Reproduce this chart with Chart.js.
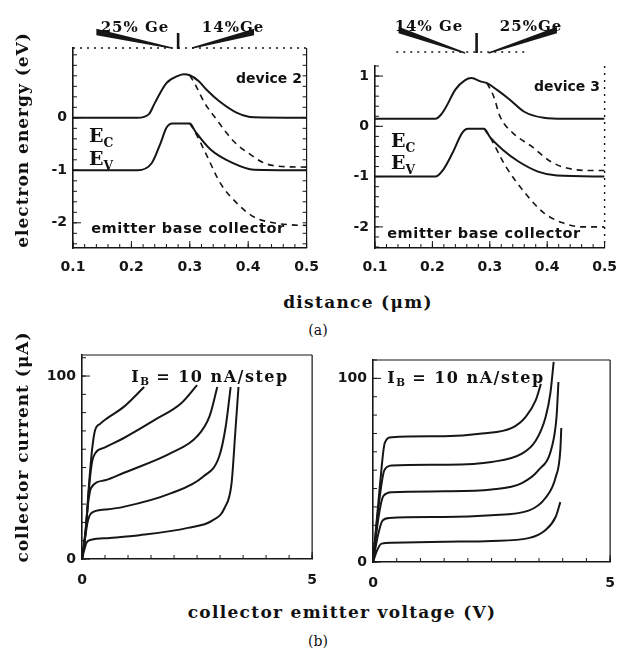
<!DOCTYPE html>
<html lang="en">
<head>
<meta charset="UTF-8">
<title>SiGe HBT band diagrams and output curves</title>
<script src="https://cdn.jsdelivr.net/npm/chart.js"></script>
<style>
  body { margin: 0; background: #fff; }
  .page { position: relative; width: 628px; height: 649px; overflow: hidden; color: #111; font-family: "DejaVu Serif", serif; }
  canvas { position: absolute; }
  .t { position: absolute; white-space: nowrap; transform: translate(-50%, -50%); font-weight: bold; }
  .l { position: absolute; white-space: nowrap; transform: translateY(-50%); font-weight: bold; }
  .sans { font-family: "DejaVu Sans", sans-serif; }
  .rot { transform: translate(-50%, -50%) rotate(-90deg); }
  .title { font-size: 17px; letter-spacing: 1.3px; }
  sub { font-size: 65%; vertical-align: -0.35em; letter-spacing: 0; }
</style>
</head>
<body>
<div class="page">
  <canvas id="dev2" width="300" height="285" style="left:30px;top:0"></canvas>
  <canvas id="dev3" width="293" height="285" style="left:335px;top:0"></canvas>
  <canvas id="iv2" width="290" height="255" style="left:40px;top:340px"></canvas>
  <canvas id="iv3" width="298" height="255" style="left:330px;top:340px"></canvas>

  <div class="t" style="left:135px;top:27px;font-size:15px;letter-spacing:1px">25% Ge</div>
  <div class="t" style="left:233px;top:27px;font-size:15px;letter-spacing:1px">14%Ge</div>
  <div class="t" style="left:429px;top:26px;font-size:15px;letter-spacing:1px">14% Ge</div>
  <div class="t" style="left:531px;top:26px;font-size:15px;letter-spacing:1px">25%Ge</div>

  <div class="t sans" style="left:269px;top:78px;font-size:14px">device 2</div>
  <div class="t sans" style="left:567px;top:86px;font-size:14px">device 3</div>

  <div class="l" style="left:89px;top:137px;font-size:19px">E<sub>C</sub></div>
  <div class="l" style="left:89px;top:160px;font-size:19px">E<sub>V</sub></div>
  <div class="l" style="left:391px;top:142px;font-size:19px">E<sub>C</sub></div>
  <div class="l" style="left:391px;top:164px;font-size:19px">E<sub>V</sub></div>

  <div class="t sans" style="left:188px;top:228px;font-size:14.5px;letter-spacing:0.6px">emitter base collector</div>
  <div class="t sans" style="left:484px;top:233px;font-size:14.5px;letter-spacing:0.6px">emitter base collector</div>

  <div class="t rot title" style="left:22px;top:140px;letter-spacing:1px">electron energy (eV)</div>
  <div class="t title" style="left:358px;top:302px">distance (μm)</div>
  <div class="t" style="left:318px;top:330px;font-size:14px;font-weight:normal">(a)</div>

  <div class="t" style="left:210px;top:377px;font-size:16px;letter-spacing:1.5px">I<sub>B</sub> = 10 nA/step</div>
  <div class="t" style="left:466px;top:378px;font-size:16px;letter-spacing:1.5px">I<sub>B</sub> = 10 nA/step</div>

  <div class="t rot title" style="left:22px;top:447px;letter-spacing:1px">collector current (μA)</div>
  <div class="t title" style="left:342px;top:612px">collector emitter voltage (V)</div>
  <div class="t" style="left:318px;top:641px;font-size:14px;font-weight:normal">(b)</div>
</div>

<script>
// ---- band diagrams (a) ----
const distTicks = [0.1, 0.2, 0.3, 0.4, 0.5];
const energyTicks2 = [-2, -1, 0];
const energyTicks3 = [-2, -1, 0, 1];

// device 2
const dist2Ec = [0.10, 0.21, 0.23, 0.24, 0.26, 0.28, 0.29, 0.30, 0.315, 0.33, 0.35, 0.38, 0.41, 0.50];
const ecDev2 = [0.0, 0.0, 0.07, 0.28, 0.66, 0.80, 0.83, 0.81, 0.70, 0.52, 0.32, 0.10, 0.01, 0.0];
const dist2EcDash = [0.30, 0.31, 0.325, 0.345, 0.363, 0.38, 0.40, 0.427, 0.45, 0.50];
const ecDev2Dash = [0.81, 0.62, 0.29, -0.02, -0.29, -0.50, -0.67, -0.86, -0.92, -0.94];
const dist2Ev = [0.10, 0.21, 0.235, 0.25, 0.26, 0.27, 0.30, 0.31, 0.336, 0.373, 0.41, 0.50];
const evDev2 = [-1.0, -1.0, -0.86, -0.48, -0.19, -0.11, -0.11, -0.27, -0.61, -0.86, -0.99, -1.0];
const dist2EvDash = [0.30, 0.31, 0.33, 0.352, 0.38, 0.41, 0.443, 0.475, 0.50];
const evDev2Dash = [-0.11, -0.29, -0.74, -1.24, -1.62, -1.89, -2.0, -2.04, -2.05];

// device 3
const dist3Ec = [0.10, 0.205, 0.214, 0.224, 0.24, 0.257, 0.268, 0.285, 0.295, 0.312, 0.335, 0.36, 0.394, 0.43, 0.50];
const ecDev3 = [0.15, 0.15, 0.22, 0.39, 0.73, 0.92, 0.96, 0.89, 0.86, 0.73, 0.53, 0.29, 0.17, 0.15, 0.15];
const dist3EcDash = [0.295, 0.307, 0.318, 0.34, 0.373, 0.406, 0.434, 0.48, 0.50];
const ecDev3Dash = [0.86, 0.59, 0.19, -0.13, -0.40, -0.70, -0.83, -0.88, -0.88];
const dist3Ev = [0.10, 0.205, 0.219, 0.235, 0.252, 0.262, 0.29, 0.30, 0.323, 0.35, 0.384, 0.417, 0.50];
const evDev3 = [-1.0, -1.0, -0.86, -0.53, -0.13, -0.05, -0.05, -0.21, -0.47, -0.70, -0.90, -0.98, -1.0];
const dist3EvDash = [0.29, 0.30, 0.328, 0.361, 0.394, 0.427, 0.46, 0.50];
const evDev3Dash = [-0.05, -0.21, -0.80, -1.32, -1.72, -1.92, -2.0, -2.0];

// ---- output characteristics (b) ----
const vceTicks = [0, 5];
const icTicks = [0, 100];

// device 2, one row per base current step
const ivLeftV = [
  [0, 0.05, 0.1, 0.2, 0.6, 1.25, 2.3, 2.83, 3.1, 3.25, 3.33, 3.4],
  [0, 0.07, 0.12, 0.2, 0.5, 0.9, 1.94, 2.63, 2.98, 3.12, 3.23],
  [0, 0.07, 0.13, 0.2, 0.5, 0.9, 1.94, 2.5, 2.77, 2.94],
  [0, 0.08, 0.15, 0.2, 0.25, 0.5, 0.9, 1.58, 2.15, 2.5],
  [0, 0.08, 0.15, 0.22, 0.28, 0.4, 0.55, 0.9, 1.35]
];
const ivLeftI = [
  [0, 5, 9, 10.5, 11.5, 13, 17, 21, 28, 41.5, 69, 94],
  [0, 12, 20, 25, 27, 28.5, 36, 45, 56, 72, 94],
  [0, 14, 30, 39, 43, 47, 58, 67, 78, 94],
  [0, 15, 38, 50, 56, 61, 66, 76, 85, 95],
  [0, 15, 40, 60, 70, 74, 77, 83, 94]
];

// device 3
const ivRightV = [
  [0, 0.08, 0.18, 0.4, 1.5, 2.5, 3.28, 3.64, 3.85, 3.95],
  [0, 0.1, 0.2, 0.35, 1.5, 2.5, 3.28, 3.64, 3.85, 3.95, 3.97],
  [0, 0.12, 0.22, 0.4, 1.5, 2.5, 3.14, 3.49, 3.77, 3.87, 3.91],
  [0, 0.13, 0.24, 0.4, 1.5, 2.5, 3.14, 3.43, 3.64, 3.74, 3.81],
  [0, 0.14, 0.25, 0.4, 1.5, 2.3, 2.93, 3.22, 3.43, 3.54]
];
const ivRightI = [
  [0, 6, 10, 10.5, 11, 11.5, 13, 17.4, 24.5, 32.6],
  [0, 14, 22.5, 24, 24.5, 25.5, 28, 35, 46, 61, 73],
  [0, 25, 36, 38, 38.5, 39.5, 43, 50, 62.5, 79, 98],
  [0, 33, 50, 52.5, 53, 54.5, 59, 66, 79, 92, 109],
  [0, 40, 65, 68, 68.5, 70, 73, 79, 88, 97]
];

const ink = '#161616';
const tickFont = { family: 'DejaVu Sans', size: 14, weight: 'bold' };

function curve(xs, ys, dashed) {
  return {
    data: xs.map((v, i) => ({ x: v, y: ys[i] })),
    showLine: true,
    borderColor: ink,
    borderWidth: dashed ? 1.6 : 2,
    borderDash: dashed ? [6, 5] : [],
    pointRadius: 0,
    cubicInterpolationMode: 'monotone'
  };
}

// inward ticks, extra borders and the Ge grading wedges
const framePlugin = {
  id: 'frame',
  afterDraw(chart, args, o) {
    const ctx = chart.ctx, a = chart.chartArea, sx = chart.scales.x, sy = chart.scales.y;
    ctx.save();
    ctx.strokeStyle = ink;
    ctx.fillStyle = ink;
    ctx.lineWidth = 1;
    ctx.beginPath();
    let n = Math.round((sx.max - o.xMinor[0]) / o.xMinor[1]);
    for (let i = 0; i <= n; i++) {
      const px = sx.getPixelForValue(o.xMinor[0] + i * o.xMinor[1]);
      ctx.moveTo(px, a.bottom); ctx.lineTo(px, a.bottom - 4);
    }
    n = Math.round((sy.max - o.yMinor[0]) / o.yMinor[1]);
    for (let i = 0; i <= n; i++) {
      const py = sy.getPixelForValue(o.yMinor[0] + i * o.yMinor[1]);
      if (py < a.top) continue;
      ctx.moveTo(a.left, py); ctx.lineTo(a.left + 4, py);
      if (o.rightTicks) { ctx.moveTo(a.right, py); ctx.lineTo(a.right - 4, py); }
    }
    sx.ticks.forEach(t => { const px = sx.getPixelForValue(t.value); ctx.moveTo(px, a.bottom); ctx.lineTo(px, a.bottom - 7); });
    sy.ticks.forEach(t => { const py = sy.getPixelForValue(t.value); ctx.moveTo(a.left, py); ctx.lineTo(a.left + 8, py); });
    ctx.stroke();

    const edge = (style, x1, y1, x2, y2) => {
      if (style === 'none') return;
      ctx.beginPath();
      ctx.lineWidth = style === 'dotted' ? 1.4 : 1.2;
      ctx.setLineDash(style === 'dotted' ? [2, 5] : []);
      ctx.moveTo(x1, y1); ctx.lineTo(x2, y2);
      ctx.stroke();
      ctx.setLineDash([]);
    };
    edge(o.right, a.right, a.top, a.right, a.bottom);
    edge(o.top, a.left, a.top, a.right, a.top);
    if (o.dots) edge('dotted', sx.getPixelForValue(o.dots[0]), a.top - o.dots[2], sx.getPixelForValue(o.dots[1]), a.top - o.dots[2]);

    (o.wedges || []).forEach(w => {
      const xo = sx.getPixelForValue(w.outer), xi = sx.getPixelForValue(w.inner);
      const yo = a.top - w.yo, yi = a.top - w.yi;
      ctx.beginPath();
      ctx.moveTo(xo, yo - 3.2); ctx.lineTo(xi, yi - 0.7); ctx.lineTo(xi, yi + 0.7); ctx.lineTo(xo, yo + 3.2);
      ctx.closePath(); ctx.fill();
    });
    if (o.mark) {
      const px = sx.getPixelForValue(o.mark[0]);
      ctx.beginPath(); ctx.lineWidth = 2.6;
      ctx.moveTo(px, a.top - o.mark[1]); ctx.lineTo(px, a.top - o.mark[2]); ctx.stroke();
    }
    ctx.restore();
  }
};

function panel(id, sets, xs, ys, o) {
  return new Chart(document.getElementById(id), {
    type: 'scatter',
    data: { datasets: sets },
    options: {
      responsive: false,
      animation: false,
      layout: { padding: o.pad },
      plugins: { legend: { display: false }, tooltip: { enabled: false }, frame: o.frame },
      scales: {
        x: {
          min: xs.min, max: xs.max,
          afterFit: s => { s.height = o.xh; },
          afterBuildTicks: s => { s.ticks = xs.ticks.map(v => ({ value: v })); },
          grid: { drawOnChartArea: false, drawTicks: false },
          border: { color: ink, width: 1.6 },
          ticks: { color: ink, font: tickFont, padding: o.xpad, maxRotation: 0, callback: xs.fmt }
        },
        y: {
          min: ys.min, max: ys.max,
          afterFit: s => { s.width = o.yw; },
          afterBuildTicks: s => { s.ticks = ys.ticks.map(v => ({ value: v })); },
          grid: { drawOnChartArea: false, drawTicks: false },
          border: { color: ink, width: 1.6 },
          ticks: { color: ink, font: tickFont, padding: 6, callback: v => String(v) }
        }
      }
    },
    plugins: [framePlugin]
  });
}

const distFmt = v => v.toFixed(1);

panel('dev2', [
  curve(dist2Ec, ecDev2), curve(dist2EcDash, ecDev2Dash, true),
  curve(dist2Ev, evDev2), curve(dist2EvDash, evDev2Dash, true)
], { min: 0.1, max: 0.5, ticks: distTicks, fmt: distFmt },
   { min: -2.48, max: 1.33, ticks: energyTicks2 },
   { pad: { top: 48, right: 8, left: 0, bottom: 0 }, xh: 37, yw: 43, xpad: 11,
     frame: { xMinor: [0.1, 0.02], yMinor: [-2.4, 0.2], right: 'solid', top: 'dotted', rightTicks: true,
              wedges: [{ outer: 0.14, inner: 0.269, yo: 16, yi: 0 }, { outer: 0.41, inner: 0.304, yo: 16, yi: 0 }],
              mark: [0.28, 15, -1] } });

panel('dev3', [
  curve(dist3Ec, ecDev3), curve(dist3EcDash, ecDev3Dash, true),
  curve(dist3Ev, evDev3), curve(dist3EvDash, evDev3Dash, true)
], { min: 0.1, max: 0.5, ticks: distTicks, fmt: distFmt },
   { min: -2.42, max: 1.2, ticks: energyTicks3 },
   { pad: { top: 66, right: 10, left: 0, bottom: 0 }, xh: 37, yw: 40, xpad: 11,
     frame: { xMinor: [0.1, 0.02], yMinor: [-2.4, 0.2], right: 'dotted', top: 'none', rightTicks: false,
              dots: [0.137, 0.36, 14],
              wedges: [{ outer: 0.141, inner: 0.257, yo: 36, yi: 13 }, { outer: 0.417, inner: 0.298, yo: 36, yi: 13 }],
              mark: [0.277, 33, 13] } });

panel('iv2', ivLeftV.map((v, k) => curve(v, ivLeftI[k])),
   { min: 0, max: 5, ticks: vceTicks, fmt: v => String(v) },
   { min: 0, max: 111.5, ticks: icTicks },
   { pad: { top: 15, right: 8, left: 0, bottom: 0 }, xh: 36, yw: 42, xpad: 13,
     frame: { xMinor: [0, 0.5], yMinor: [0, 10], right: 'solid', top: 'solid', rightTicks: false } });

panel('iv3', ivRightV.map((v, k) => curve(v, ivRightI[k])),
   { min: 0, max: 5, ticks: vceTicks, fmt: v => String(v) },
   { min: 0, max: 110, ticks: icTicks },
   { pad: { top: 20, right: 16, left: 0, bottom: 0 }, xh: 33, yw: 43, xpad: 13,
     frame: { xMinor: [0, 0.5], yMinor: [0, 10], right: 'solid', top: 'solid', rightTicks: false } });
</script>
</body>
</html>
